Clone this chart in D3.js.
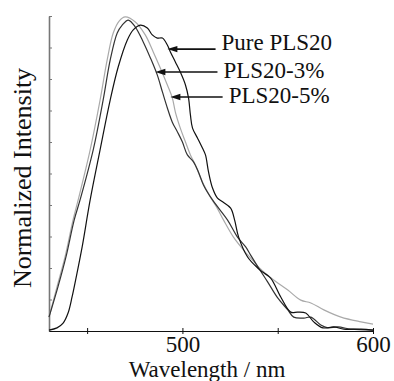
<!DOCTYPE html>
<html>
<head>
<meta charset="utf-8">
<script src="https://cdn.jsdelivr.net/npm/d3@7"></script>
<style>
    body { margin: 0; background: #fff; }
    svg { display: block; font-family: "Liberation Serif", "Times New Roman", serif; }
</style>
</head>
<body>
<div id="chart"></div>
<script>
// Pure PLS20
let pureWl = [430, 434.2, 437.4, 440, 442.1, 444.7, 447.4, 451.6, 456.8, 462.1, 466.3, 471.1, 474.2, 477.9, 481.6, 484.2, 486.8, 489.5, 492.1, 493.7, 496.3, 498.9, 501.6, 503.2, 504.2, 505.3, 507.9, 510.5, 512.1, 513.7, 515.8, 518.4, 521.1, 525.3, 527.4, 529.5, 534.2, 539.5, 542.1, 546.3, 551.6, 556.8, 560.5, 564.7, 568.9, 573.7, 579.5, 584.7, 593.7, 600];
let pureI = [0.003, 0.010, 0.025, 0.057, 0.108, 0.184, 0.267, 0.416, 0.575, 0.733, 0.838, 0.924, 0.956, 0.971, 0.962, 0.940, 0.930, 0.930, 0.908, 0.886, 0.854, 0.822, 0.781, 0.740, 0.686, 0.644, 0.613, 0.581, 0.559, 0.505, 0.454, 0.422, 0.410, 0.390, 0.352, 0.298, 0.235, 0.200, 0.187, 0.168, 0.108, 0.060, 0.060, 0.057, 0.029, 0.010, 0.013, 0.006, 0.006, 0.003];

// PLS20-3%
let pls3Wl = [430, 434.7, 438.9, 443.2, 446.3, 453.2, 458.4, 462.1, 465.8, 468.4, 471.6, 475.3, 479.5, 483.2, 486.8, 489.5, 492.1, 494.7, 497.4, 500, 502.6, 505.8, 508.4, 511.1, 515.8, 523.7, 528.9, 533.2, 535.8, 540, 544.7, 550, 555.3, 558.4, 563.7, 567.4, 572.6, 576.3, 581.6, 588.4, 600];
let pls3I = [0.044, 0.140, 0.235, 0.352, 0.416, 0.575, 0.733, 0.860, 0.946, 0.971, 0.987, 0.965, 0.917, 0.867, 0.813, 0.759, 0.708, 0.663, 0.632, 0.600, 0.559, 0.537, 0.505, 0.463, 0.416, 0.352, 0.298, 0.267, 0.241, 0.200, 0.156, 0.105, 0.067, 0.044, 0.041, 0.044, 0.019, 0.010, 0.013, 0.006, 0.003];

// PLS20-5%
let pls5Wl = [430, 434.2, 438.4, 442.6, 445.3, 451.6, 456.8, 460.5, 463.7, 466.8, 470, 475.3, 480.5, 484.7, 488.4, 492.1, 494.7, 496.3, 498.9, 501.6, 504.2, 506.8, 510.5, 514.7, 517.9, 521.6, 526.8, 532.1, 536.8, 540, 547.9, 555.3, 562.1, 567.4, 574.2, 583.2, 593.7, 600];
let pls5I = [0.044, 0.140, 0.235, 0.352, 0.416, 0.575, 0.733, 0.860, 0.946, 0.984, 0.997, 0.981, 0.940, 0.886, 0.835, 0.781, 0.740, 0.695, 0.644, 0.600, 0.559, 0.527, 0.473, 0.425, 0.394, 0.352, 0.298, 0.257, 0.225, 0.203, 0.162, 0.130, 0.098, 0.089, 0.067, 0.044, 0.029, 0.022];

let xTicks = [450, 500, 550, 600];
let xTickLabels = ['', '500', '', '600'];
let yTicks = [0, 0.1, 0.2, 0.3, 0.4, 0.5, 0.6, 0.7, 0.8, 0.9, 1.0];

// label, arrow tip (nm, intensity), arrow tail (nm)
let labels = ['Pure PLS20', 'PLS20-3%', 'PLS20-5%'];
let arrowTipWl = [492.1, 485.8, 493.7];
let arrowTipI = [0.895, 0.822, 0.743];
let arrowTailWl = [517.4, 518.4, 521.1];

let width = 394, height = 381;
let svg = d3.select('#chart').append('svg')
    .attr('width', width)
    .attr('height', height);

let x = d3.scaleLinear().domain([430, 600]).range([49, 373]);
let y = d3.scaleLinear().domain([0, 1]).range([331, 16]);

// y axis (grey, ticks inside, no labels)
let yAxis = svg.append('g')
    .attr('transform', 'translate(49,0)')
    .call(d3.axisRight(y).tickValues(yTicks).tickSize(3).tickSizeOuter(0).tickFormat(''));
yAxis.select('.domain').attr('stroke', '#777').attr('stroke-width', 1.6);
yAxis.selectAll('.tick line').attr('stroke', '#777').attr('stroke-width', 1);

// x axis
let xAxis = svg.append('g')
    .attr('transform', 'translate(0,331)')
    .call(d3.axisBottom(x).tickValues(xTicks).tickSize(3).tickSizeOuter(0)
        .tickFormat(function (d, i) { return xTickLabels[i]; }));
xAxis.select('.domain').attr('stroke', '#111').attr('stroke-width', 1.2);
xAxis.selectAll('.tick line').attr('stroke', '#111').attr('y1', -3).attr('y2', 3);
xAxis.selectAll('.tick text')
    .attr('y', 21)
    .attr('dy', 0)
    .style('font-family', '"Liberation Serif", serif')
    .style('font-size', '23px')
    .attr('fill', '#111');

let line = d3.line()
    .x(function (d) { return x(d[0]); })
    .y(function (d) { return y(d[1]); })
    .curve(d3.curveCatmullRom);

let series = [
    { wl: pls5Wl, val: pls5I, color: '#aaaaaa' },
    { wl: pls3Wl, val: pls3I, color: '#333333' },
    { wl: pureWl, val: pureI, color: '#111111' }
];
series.forEach(function (s) {
    svg.append('path')
        .datum(d3.zip(s.wl, s.val))
        .attr('d', line)
        .attr('fill', 'none')
        .attr('stroke', s.color)
        .attr('stroke-width', 1.2);
});

// arrows + labels
labels.forEach(function (lab, i) {
    let tx = x(arrowTipWl[i]), ty = y(arrowTipI[i]);
    let ex = x(arrowTailWl[i]);
    svg.append('line')
        .attr('x1', tx + 6).attr('y1', ty)
        .attr('x2', ex).attr('y2', ty)
        .attr('stroke', '#111')
        .attr('stroke-width', 1.6);
    svg.append('path')
        .attr('d', 'M' + tx + ',' + ty + 'L' + (tx + 10) + ',' + (ty - 3.2) + 'L' + (tx + 10) + ',' + (ty + 3.2) + 'Z')
        .attr('fill', '#111');
    svg.append('text')
        .attr('x', ex + 6)
        .attr('y', ty + (i == 0 ? 1 : 6))
        .style('font-size', '23px')
        .attr('fill', '#111')
        .text(lab);
});

// axis titles
svg.append('text')
    .attr('x', 207)
    .attr('y', 377)
    .attr('text-anchor', 'middle')
    .style('font-size', '23px')
    .attr('fill', '#111')
    .text('Wavelength / nm');

svg.append('text')
    .attr('transform', 'translate(31,178) rotate(-90)')
    .attr('text-anchor', 'middle')
    .style('font-size', '26px')
    .attr('fill', '#111')
    .text('Normalized Intensity');
</script>
</body>
</html>
